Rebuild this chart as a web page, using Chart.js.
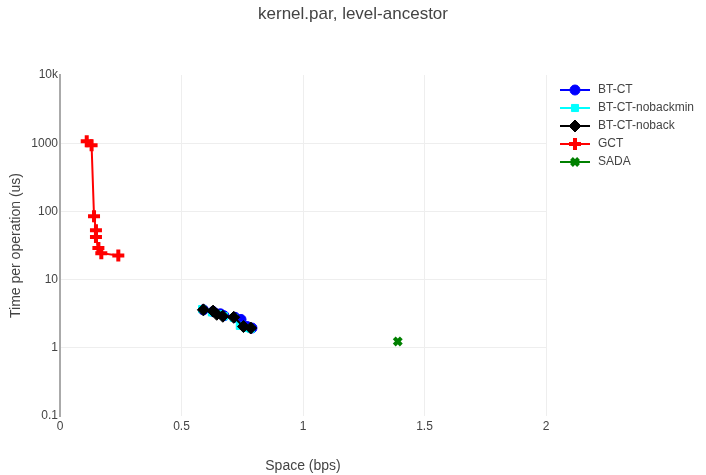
<!DOCTYPE html>
<html>
<head>
<meta charset="utf-8">
<script src="https://cdn.jsdelivr.net/npm/chart.js@4"></script>
<style>
  html, body { margin: 0; padding: 0; background: #fff; }
  #wrap { width: 706px; height: 475px; }
</style>
</head>
<body>
<div id="wrap"><canvas id="chart"></canvas></div>
<script>
// Series values (x = space in bps, y = time per op in us)
const btctX = [0.59, 0.63, 0.66, 0.675, 0.72, 0.745, 0.77, 0.79];
const btctY = [3.6, 3.4, 3.15, 2.95, 2.8, 2.6, 2.05, 1.95];

const nobackminX = [0.585, 0.625, 0.655, 0.675, 0.715, 0.74, 0.765, 0.785];
const nobackminY = [3.7, 3.3, 3.1, 2.9, 2.75, 2.1, 1.95, 1.9];

const nobackX = [0.59, 0.63, 0.645, 0.67, 0.715, 0.755, 0.785];
const nobackY = [3.6, 3.45, 3.1, 2.9, 2.8, 2.05, 1.95];

const gctX = [0.11, 0.13, 0.14, 0.148, 0.148, 0.158, 0.17, 0.24];
const gctY = [1070, 935, 85, 53, 42, 29, 24.4, 22.5];

const sadaX = [1.39];
const sadaY = [1.24];

const yTicks = [0.1, 1, 10, 100, 1000, 10000];
const yTickLabels = ['0.1', '1', '10', '100', '1000', '10k'];
const xTicks = [0, 0.5, 1, 1.5, 2];

const chartTitle = 'kernel.par, level-ancestor';
const textColor = '#444';
const fontFamily = '"Liberation Sans", Arial, sans-serif';

function toPoints(xs, ys) {
  return xs.map((x, i) => ({ x: x, y: ys[i] }));
}

const seriesDefs = [
  { label: 'BT-CT', color: '#0000ff', style: 'circle', radius: 5, bw: 1, xs: btctX, ys: btctY },
  { label: 'BT-CT-nobackmin', color: '#00ffff', style: 'rect', radius: 5, bw: 1, xs: nobackminX, ys: nobackminY },
  { label: 'BT-CT-noback', color: '#000000', style: 'rectRot', radius: 6, bw: 1, xs: nobackX, ys: nobackY },
  { label: 'GCT', color: '#ff0000', style: 'cross', radius: 6, bw: 4, xs: gctX, ys: gctY },
  { label: 'SADA', color: '#008000', style: 'crossRot', radius: 5, bw: 4, xs: sadaX, ys: sadaY }
];

const datasets = seriesDefs.map((s, i) => ({
  label: s.label,
  data: toPoints(s.xs, s.ys),
  borderColor: s.color,
  backgroundColor: s.color,
  borderWidth: 2,
  pointStyle: s.style,
  pointRadius: s.radius,
  pointBorderWidth: s.bw,
  pointBorderColor: s.color,
  pointBackgroundColor: s.color,
  showLine: true,
  tension: 0,
  order: seriesDefs.length - i
}));

// Title centred on the whole canvas, legend on the right like the original
const decorations = {
  id: 'decorations',
  afterDraw(chart) {
    const ctx = chart.ctx;
    ctx.save();
    ctx.fillStyle = textColor;
    ctx.font = '17px ' + fontFamily;
    ctx.textAlign = 'center';
    ctx.textBaseline = 'middle';
    ctx.fillText(chartTitle, chart.width / 2, 14);

    const left = chart.chartArea.right + 14;
    const top = chart.chartArea.top + 15;
    ctx.textAlign = 'left';
    ctx.font = '12px ' + fontFamily;
    seriesDefs.forEach((s, i) => {
      const y = top + i * 18;
      ctx.strokeStyle = s.color;
      ctx.lineWidth = 2;
      ctx.beginPath();
      ctx.moveTo(left, y);
      ctx.lineTo(left + 30, y);
      ctx.stroke();
      ctx.lineWidth = s.bw;
      ctx.fillStyle = s.color;
      Chart.helpers.drawPoint(ctx, { pointStyle: s.style, radius: s.radius, borderWidth: s.bw }, left + 15, y);
      ctx.fillStyle = textColor;
      ctx.fillText(s.label, left + 38, y);
    });
    ctx.restore();
  }
};

new Chart(document.getElementById('chart'), {
  type: 'scatter',
  data: { datasets: datasets },
  options: {
    responsive: true,
    maintainAspectRatio: false,
    animation: false,
    layout: { padding: { left: 0, right: 160, top: 75, bottom: 0 } },
    plugins: {
      legend: { display: false },
      tooltip: { enabled: false },
      title: { display: false }
    },
    scales: {
      x: {
        type: 'linear',
        min: 0,
        max: 2,
        afterBuildTicks: scale => { scale.ticks = xTicks.map(v => ({ value: v })); },
        afterFit: scale => { scale.height = 59; },
        ticks: {
          color: textColor,
          font: { family: fontFamily, size: 12 },
          padding: 3,
          maxRotation: 0,
          callback: v => String(v)
        },
        grid: {
          drawTicks: false,
          color: ctx => (ctx.tick && ctx.tick.value === 0) ? 'rgba(0,0,0,0)' : '#eeeeee',
          lineWidth: 1
        },
        border: { display: false },
        title: {
          display: true,
          text: 'Space (bps)',
          color: textColor,
          font: { family: fontFamily, size: 14 },
          padding: { top: 4, bottom: 0 }
        }
      },
      y: {
        type: 'logarithmic',
        min: 0.1,
        max: 10000,
        afterBuildTicks: scale => { scale.ticks = yTicks.map(v => ({ value: v })); },
        afterFit: scale => { scale.width = 60; },
        ticks: {
          color: textColor,
          font: { family: fontFamily, size: 12 },
          padding: 2,
          callback: v => yTickLabels[yTicks.indexOf(v)]
        },
        grid: {
          drawTicks: false,
          color: ctx => (ctx.tick && (ctx.tick.value === 0.1 || ctx.tick.value === 10000)) ? 'rgba(0,0,0,0)' : '#eeeeee',
          lineWidth: 1
        },
        border: { display: true, color: '#aaaaaa', width: 2 },
        title: {
          display: true,
          text: 'Time per operation (us)',
          color: textColor,
          font: { family: fontFamily, size: 14 },
          padding: { top: 8, bottom: 4 }
        }
      }
    }
  },
  plugins: [decorations]
});
</script>
</body>
</html>
